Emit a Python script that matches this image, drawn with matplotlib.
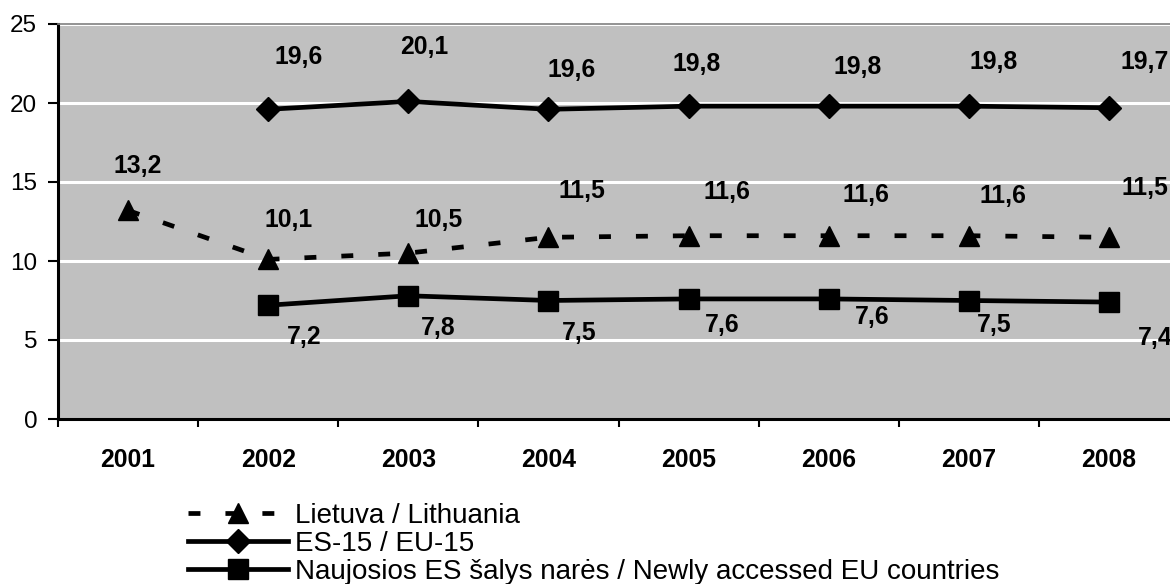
import matplotlib
matplotlib.use("Agg")
import matplotlib.pyplot as plt
import numpy as np

plt.rcParams["font.family"] = ["Liberation Sans", "DejaVu Sans"]

years = ["2001", "2002", "2003", "2004", "2005", "2006", "2007", "2008"]
lithuania = [13.2, 10.1, 10.5, 11.5, 11.6, 11.6, 11.6, 11.5]
eu15 = [None, 19.6, 20.1, 19.6, 19.8, 19.8, 19.8, 19.7]
new_eu = [None, 7.2, 7.8, 7.5, 7.6, 7.6, 7.5, 7.4]

# label offsets in pixels (dx, dy down) as placed in the original
lt_offsets = [(10, -44), (20, -39), (30, -33), (33, -46), (38, -44), (37, -41), (34, -40), (36, -49)]
eu15_offsets = [None, (30, -52), (16, -54), (23, -39), (8, -42), (29, -39), (25, -44), (36, -46)]
new_offsets = [None, (36, 32), (30, 32), (31, 32), (34, 26), (44, 18), (25, 25), (46, 36)]

W, H = 1170, 584
fig = plt.figure(figsize=(W / 100, H / 100), dpi=100)
left, right, top, bottom = 58, 1179, 24, 419
ax = fig.add_axes([left / W, 1 - bottom / H, (right - left) / W, (bottom - top) / H])
ax.set_facecolor("#c0c0c0")

x = np.arange(len(years))


def to_arr(vals):
    return np.array([np.nan if v is None else v for v in vals], dtype=float)


lw = 3.4
(lt_line,) = ax.plot(x, to_arr(lithuania), color="black", lw=lw, marker="^", ms=15,
                     dashes=(8.6 / lw, 18 / lw), zorder=3, label="Lietuva / Lithuania")
(eu_line,) = ax.plot(x, to_arr(eu15), color="black", lw=lw, marker="D", ms=12,
                     zorder=3, label="ES-15 / EU-15")
(new_line,) = ax.plot(x, to_arr(new_eu), color="black", lw=lw, marker="s", ms=15,
                      zorder=3, label="Naujosios ES šalys narės / Newly accessed EU countries")


def label_series(vals, offsets):
    for i, v in enumerate(vals):
        if v is None:
            continue
        dx, dy = offsets[i]
        ax.annotate(f"{v:.1f}".replace(".", ","), (x[i], v), xytext=(dx, -dy),
                    textcoords="offset pixels", ha="center", va="center",
                    fontsize=17.8, fontweight="bold", annotation_clip=False, zorder=4)


label_series(lithuania, lt_offsets)
label_series(eu15, eu15_offsets)
label_series(new_eu, new_offsets)

ax.set_xlim(-0.5, len(years) - 0.5)
ax.set_ylim(0, 25)
ax.set_yticks([0, 5, 10, 15, 20, 25])
ax.yaxis.grid(True, color="white", lw=2.2, zorder=1)
ax.set_axisbelow(True)
ax.tick_params(axis="y", length=7, width=1.5, pad=8, labelsize=17.5, direction="out")

ax.set_xticks(np.arange(len(years) + 1) - 0.5)
ax.set_xticklabels([])
ax.set_xticks(x, minor=True)
ax.set_xticklabels(years, minor=True, fontweight="bold", fontsize=17.8)
ax.tick_params(axis="x", which="major", length=6, width=1.5, direction="out")
ax.tick_params(axis="x", which="minor", length=0, pad=21)

ax.spines["left"].set_linewidth(2.2)
ax.spines["bottom"].set_linewidth(2.2)
ax.spines["top"].set_color("#808080")
ax.spines["top"].set_linewidth(1.2)
ax.spines["right"].set_visible(False)

leg = ax.legend(handles=[lt_line, eu_line, new_line], loc="upper left",
                bbox_to_anchor=(188 / W, 1 - 503 / H), bbox_transform=fig.transFigure,
                frameon=False, fontsize=20, handlelength=3.6, handletextpad=0.25,
                labelspacing=0.07, borderpad=0, borderaxespad=0)

fig.savefig("out.png", dpi=100)
